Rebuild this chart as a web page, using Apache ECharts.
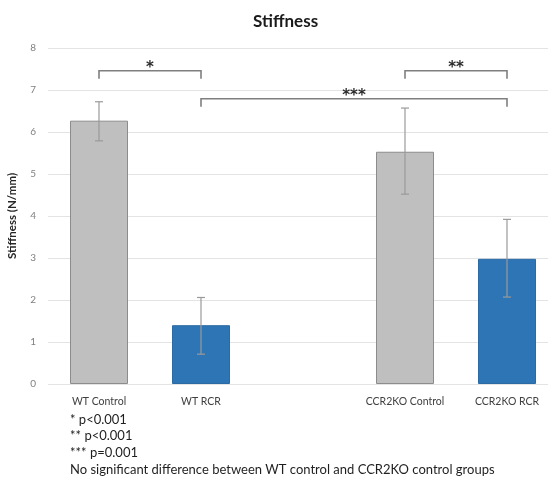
<!DOCTYPE html>
<html>
<head>
<meta charset="utf-8">
<script src="https://cdn.jsdelivr.net/npm/echarts@6/dist/echarts.min.js"></script>
<style>html,body{margin:0;padding:0;background:#fff;}#c{width:548px;height:478px;}</style>
</head>
<body>
<div id="c"></div>
<script>
var categories = ['WT Control', 'WT RCR', '', 'CCR2KO Control', 'CCR2KO RCR'];
var stiffness = [6.27, 1.40, null, 5.53, 2.98];
var errHigh = [6.72, 2.06, null, 6.57, 3.92];
var errLow = [5.79, 0.71, null, 4.52, 2.07];
var barColors = ['#BFBFBF', '#2E75B6', '#BFBFBF', '#BFBFBF', '#2E75B6'];
var borderColors = ['#8C8C8C', '#2A6AA5', '#8C8C8C', '#8C8C8C', '#2A6AA5'];
var bracketFrom = [0, 3, 1];
var bracketTo = [1, 4, 4];
var bracketLevel = [7.46, 7.46, 6.79];
var bracketLabels = ['*', '**', '***'];
var footnotes = ['* p<0.001', '** p<0.001', '*** p=0.001', 'No significant difference between WT control and CCR2KO control groups'];
var yTicks = [0, 8, 1];

var FONT = 'Lato, "Open Sans", sans-serif';

var barData = stiffness.map(function (v, i) {
  return v == null ? null : { value: v, itemStyle: { color: barColors[i], borderColor: borderColors[i], borderWidth: 1 } };
});
var errData = [];
stiffness.forEach(function (v, i) { if (v != null) errData.push([i, errLow[i], errHigh[i]]); });
var bracketData = bracketFrom.map(function (f, i) { return [f, bracketTo[i], bracketLevel[i], i]; });

var chart = echarts.init(document.getElementById('c'), null, { renderer: 'canvas' });
chart.setOption({
  animation: false,
  backgroundColor: '#ffffff',
  title: {
    text: 'Stiffness', left: 248, top: 8,
    textStyle: { fontFamily: FONT, fontSize: 17, fontWeight: 'bold', color: '#1a1a1a' }
  },
  grid: { left: 48, top: 48, width: 510, height: 336, containLabel: false, outerBoundsMode: 'none' },
  xAxis: {
    type: 'category', data: categories,
    axisLine: { show: false }, axisTick: { show: false },
    axisLabel: { fontFamily: FONT, fontSize: 10.5, color: '#404040', margin: 12, interval: 0 }
  },
  yAxis: {
    type: 'value', min: yTicks[0], max: yTicks[1], interval: yTicks[2],
    name: 'Stiffness (N/mm)', nameLocation: 'middle', nameGap: 30,
    nameTextStyle: { fontFamily: FONT, fontSize: 11.5, fontWeight: 'bold', color: '#262626' },
    axisLine: { show: false }, axisTick: { show: false },
    axisLabel: { fontFamily: FONT, fontSize: 10, color: '#808080', margin: 12 },
    splitLine: { lineStyle: { color: '#E3E3E3', width: 1 } }
  },
  graphic: footnotes.map(function (t, i) {
    return {
      type: 'text', left: 70, top: 413 + i * 16.8,
      style: { text: t, font: '13px ' + FONT, fill: '#1f1f1f' }
    };
  }),
  series: [
    {
      type: 'bar', data: barData, barWidth: 58, barGap: '0%'
    },
    {
      type: 'custom', data: errData, encode: { x: 0, y: [1, 2] }, z: 5,
      renderItem: function (params, api) {
        var x = api.value(0);
        var lo = api.coord([x, api.value(1)]);
        var hi = api.coord([x, api.value(2)]);
        var cap = 4;
        var st = { stroke: '#9A9A9A', lineWidth: 1.2 };
        return {
          type: 'group', children: [
            { type: 'line', shape: { x1: hi[0], y1: hi[1], x2: lo[0], y2: lo[1] }, style: st },
            { type: 'line', shape: { x1: hi[0] - cap, y1: hi[1], x2: hi[0] + cap, y2: hi[1] }, style: st },
            { type: 'line', shape: { x1: lo[0] - cap, y1: lo[1], x2: lo[0] + cap, y2: lo[1] }, style: st }
          ]
        };
      }
    },
    {
      type: 'custom', data: bracketData, encode: { x: [0, 1], y: 2 }, z: 6, clip: false,
      renderItem: function (params, api) {
        var p1 = api.coord([api.value(0), api.value(2)]);
        var p2 = api.coord([api.value(1), api.value(2)]);
        var drop = 8;
        var label = bracketLabels[api.value(3)];
        return {
          type: 'group', children: [
            { type: 'polyline', shape: { points: [[p1[0], p1[1] + drop], [p1[0], p1[1]], [p2[0], p2[1]], [p2[0], p2[1] + drop]] },
              style: { stroke: '#7F7F7F', lineWidth: 1.6, fill: null } },
            { type: 'text', x: (p1[0] + p2[0]) / 2, y: p1[1] - 3,
              style: { text: label, font: 'bold 15px "DejaVu Sans", sans-serif', fill: '#2b2b2b', textAlign: 'center', textVerticalAlign: 'middle' } }
          ]
        };
      }
    }
  ]
});
</script>
</body>
</html>
